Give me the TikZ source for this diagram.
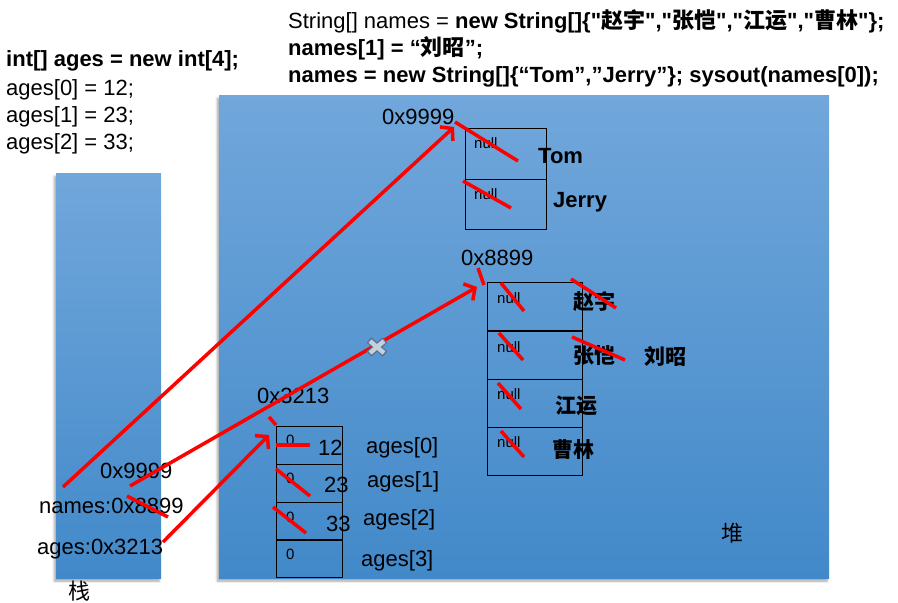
\documentclass[tikz,border=0pt]{standalone}
\usepackage{fontspec}
\setmainfont{Liberation Sans}
\newfontfamily\cjkf{Noto Sans CJK SC}
\usetikzlibrary{arrows.meta,shadows.blur}
\definecolor{regtop}{RGB}{113,167,219}
\definecolor{regbot}{RGB}{66,137,201}
\definecolor{xfill}{RGB}{198,208,220}
\definecolor{xedge}{RGB}{84,112,150}
\newcommand{\cj}[1]{{\cjkf #1}}
\newcommand{\sq}{{\addfontfeatures{Ligatures=TeXOff}"}}
\tikzset{
  txt/.style={inner sep=0pt, anchor=base west, font=\fontsize{22}{26}\selectfont},
  btxt/.style={inner sep=0pt, anchor=base west, font=\fontsize{22}{26}\selectfont\bfseries},
  ctxt/.style={inner sep=0pt, anchor=west, font=\fontsize{21}{26}\selectfont\bfseries},
  smalltxt/.style={inner sep=0pt, anchor=base west, font=\fontsize{15}{18}\selectfont},
  cell/.style={draw=black, line width=1.3pt, anchor=north west, inner sep=0pt},
  strike/.style={draw=red, line width=3.5pt},
  ptr/.style={draw=red, line width=3.5pt, -{Straight Barb[length=8pt,width=19pt]}},
  region/.style={top color=regtop, bottom color=regbot, draw=none,
    blur shadow={shadow xshift=-2pt, shadow yshift=-3pt, shadow blur steps=6, shadow opacity=35}},
}
\begin{document}
\begin{tikzpicture}[x=1pt,y=-1pt]
\useasboundingbox (0,0) rectangle (898,603);
% regions
\node[region, anchor=north west, minimum width=105pt, minimum height=405pt, inner sep=0pt] (stack) at (56,173) {};
\node[region, anchor=north west, minimum width=610pt, minimum height=483pt, inner sep=0pt] (heap) at (219,95) {};
\node[txt, anchor=center] (stacklbl) at (79,591) {\cj{栈}};
\node[txt, anchor=center] (heaplbl) at (732,533) {\cj{堆}};
% code text
\node[btxt] (c1) at (6,66) {int[] ages = new int[4];};
\node[txt] (c2) at (6,95) {ages[0] = 12;};
\node[txt] (c3) at (6,122) {ages[1] = 23;};
\node[txt] (c4) at (6,149) {ages[2] = 33;};
\node[txt] (s1) at (288,28) {String[] names = \textbf{new String[]\{\sq\cj{赵宇}\sq,\sq\cj{张恺}\sq,\sq\cj{江运}\sq,\sq\cj{曹林}\sq\};}};
\node[btxt] (s2) at (288,55) {names[1] = “\cj{刘昭}”;};
\node[btxt] (s3) at (288,82) {names = new String[]\{“Tom”,”Jerry”\}; sysout(names[0]);};
% stack contents
\node[txt] (st9999) at (100,478) {0x9999};
\node[txt] (stnames) at (39,513) {names:0x8899};
\node[txt] (stages) at (37,554) {ages:0x3213};
% Tom / Jerry array
\node[txt] (h9999) at (382,124) {0x9999};
\node[cell, minimum width=80.5pt, minimum height=50.5pt] (t0) at (465,128) {};
\node[cell, minimum width=80.5pt, minimum height=50.5pt] (t1) at (465,178.5) {};
\node[smalltxt] (tn0) at (474,148) {null};
\node[smalltxt] (tn1) at (474,199) {null};
\node[btxt] (tom) at (538,163) {Tom};
\node[btxt] (jerry) at (553,207) {Jerry};
% names array
\node[txt] (h8899) at (461,265) {0x8899};
\foreach \i in {0,1,2,3} {
  \node[cell, minimum width=95pt, minimum height=48.25pt] (n\i) at (487,282+48.25*\i) {};
}
\node[smalltxt] (nn0) at (497,303) {null};
\node[smalltxt] (nn1) at (497,352) {null};
\node[smalltxt] (nn2) at (497,399) {null};
\node[smalltxt] (nn3) at (497,447) {null};
\node[ctxt] (zy) at (573,302) {\cj{赵宇}};
\node[ctxt] (zk) at (573,356) {\cj{张恺}};
\node[ctxt] (lz) at (644,356) {\cj{刘昭}};
\node[ctxt] (jy) at (555,406) {\cj{江运}};
\node[ctxt] (cl) at (552,449) {\cj{曹林}};
% ages array
\node[txt] (h3213) at (257,403) {0x3213};
\foreach \i in {0,1,2,3} {
  \node[cell, minimum width=66pt, minimum height=37.75pt] (a\i) at (276,426+37.75*\i) {};
}
\node[smalltxt] (az0) at (286,445) {0};
\node[smalltxt] (az1) at (286,483) {0};
\node[smalltxt] (az2) at (286,522) {0};
\node[smalltxt] (az3) at (286,559) {0};
\node[txt] (v12) at (318,455) {12};
\node[txt] (v23) at (324,492) {23};
\node[txt] (v33) at (326,531) {33};
\node[txt] (al0) at (366,453) {ages[0]};
\node[txt] (al1) at (367,487) {ages[1]};
\node[txt] (al2) at (363,525) {ages[2]};
\node[txt] (al3) at (361,566) {ages[3]};
% strike lines
\draw[strike] (455,122) -- (518,161);
\draw[strike] (463,181) -- (511,208);
\draw[strike] (478,268) -- (484,285);
\draw[strike] (501,283) -- (524,311);
\draw[strike] (499,333) -- (523,360);
\draw[strike] (498,383) -- (521,409);
\draw[strike] (501,431) -- (524,457);
\draw[strike] (571,279) -- (616,308);
\draw[strike] (572,337) -- (625,360);
\draw[strike] (269,417) -- (276,425);
\draw[strike] (276,445) -- (310,445);
\draw[strike] (276,469) -- (310,496);
\draw[strike] (273,507) -- (306,533);
\draw[strike] (127,496) -- (168,517);
% pointers
\coordinate (p1s) at (63,487);
\coordinate (p1e) at (454,127);
\coordinate (p2s) at (130,486);
\coordinate (p2e) at (477,287);
\coordinate (p3s) at (163,542);
\coordinate (p3e) at (269,435);
\draw[ptr] (p1s) -- (p1e);
\draw[ptr] (p2s) -- (p2e);
\draw[ptr] (p3s) -- (p3e);
% cross mark
\coordinate (xm) at (377,347);
\draw[xedge, line width=7pt] ([shift={(-8,-7)}]xm) -- ([shift={(8,7)}]xm) ([shift={(-8,7)}]xm) -- ([shift={(8,-7)}]xm);
\draw[xfill, line width=4.5pt] ([shift={(-7,-6)}]xm) -- ([shift={(7,6)}]xm) ([shift={(-7,6)}]xm) -- ([shift={(7,-6)}]xm);
\end{tikzpicture}
\end{document}
